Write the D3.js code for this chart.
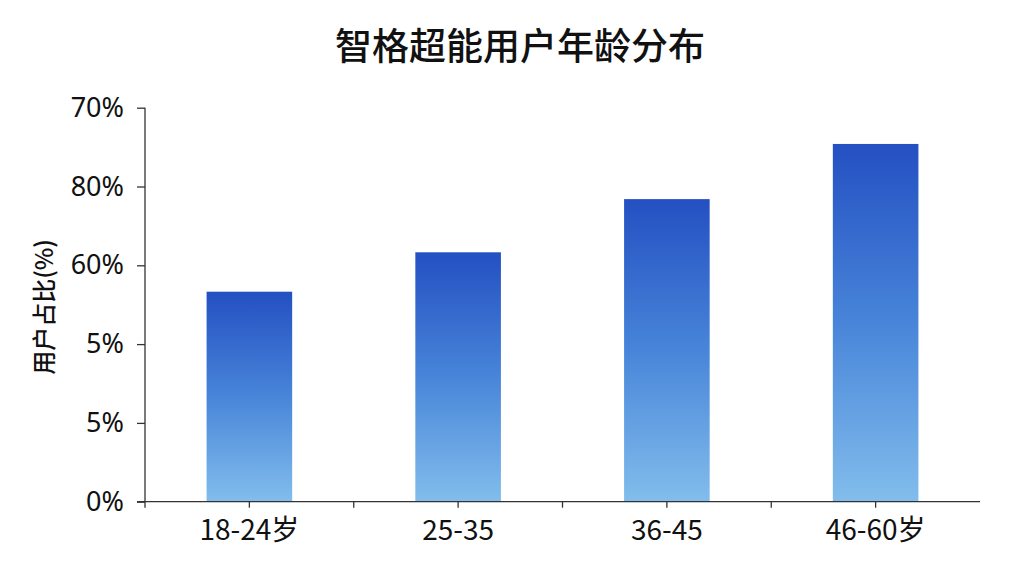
<!DOCTYPE html>
<html>
<head>
<meta charset="utf-8">
<script src="https://cdn.jsdelivr.net/npm/d3@7"></script>
<style>
  body { margin: 0; background: #fff; }
  svg { display: block; }
</style>
</head>
<body>
<div id="chart"></div>
<script>
var ageGroups = ["18-24岁", "25-35", "36-45", "46-60岁"];
var userShare = [53.3, 63.3, 76.8, 90.8];
var yTickValues = [0, 20, 40, 60, 80, 100];
var yTickLabels = ["0%", "5%", "5%", "60%", "80%", "70%"];

var width = 1024, height = 576;
var margin = {top: 107.7, right: 44, bottom: 74.3, left: 145};
var innerW = width - margin.left - margin.right,
    innerH = height - margin.top - margin.bottom;

var font = "'Noto Sans CJK SC', 'Noto Sans', sans-serif";

var svg = d3.select("#chart").append("svg")
    .attr("width", width)
    .attr("height", height);

var defs = svg.append("defs");
var grad = defs.append("linearGradient")
    .attr("id", "barGrad")
    .attr("x1", 0).attr("y1", 0).attr("x2", 0).attr("y2", 1);
grad.append("stop").attr("offset", "0%").attr("stop-color", "#2450c2");
grad.append("stop").attr("offset", "50%").attr("stop-color", "#4885d9");
grad.append("stop").attr("offset", "100%").attr("stop-color", "#82bdec");

var g = svg.append("g")
    .attr("transform", "translate(" + margin.left + "," + margin.top + ")");

var x = d3.scaleBand()
    .domain(ageGroups)
    .range([0, innerW])
    .paddingInner(0.59)
    .paddingOuter(0.295);

var y = d3.scaleLinear()
    .domain([0, 100])
    .range([innerH, 0]);

// title
svg.append("text")
    .attr("x", 520)
    .attr("y", 44)
    .attr("text-anchor", "middle")
    .attr("dominant-baseline", "central")
    .style("font-family", font)
    .style("font-size", "37px")
    .style("font-weight", 500)
    .style("fill", "#111")
    .text("智格超能用户年龄分布");

// bars
g.selectAll(".bar")
    .data(userShare)
    .enter().append("rect")
    .attr("class", "bar")
    .attr("x", function(d, i) { return x(ageGroups[i]); })
    .attr("y", function(d) { return y(d); })
    .attr("width", x.bandwidth())
    .attr("height", function(d) { return innerH - y(d); })
    .attr("fill", "url(#barGrad)");

// y axis
var yAxis = d3.axisLeft(y)
    .tickValues(yTickValues)
    .tickSize(8)
    .tickPadding(13)
    .tickFormat(function(d, i) { return yTickLabels[i]; });

var yg = g.append("g").call(yAxis);
yg.select(".domain").attr("d", "M0,0V" + (innerH + 6));
yg.selectAll("line, path").attr("stroke", "#333").attr("stroke-width", 1.3);
yg.selectAll("text")
    .style("font-family", "'Noto Sans', sans-serif")
    .style("font-size", "27px")
    .style("fill", "#111");

// x axis: ticks at bar centres and in between
var xAxis = d3.axisBottom(x)
    .tickSize(6)
    .tickPadding(12);

var xg = g.append("g")
    .attr("transform", "translate(0," + innerH + ")")
    .call(xAxis);
xg.select(".domain").attr("d", "M-8,0H" + innerW);
xg.selectAll("line, path").attr("stroke", "#333").attr("stroke-width", 1.3);
xg.selectAll("text")
    .style("font-family", font)
    .style("font-size", "28px")
    .style("fill", "#111");

var step = x.step();
xg.selectAll(".mid")
    .data(ageGroups.slice(1))
    .enter().append("line")
    .attr("class", "mid")
    .attr("x1", function(d) { return x(d) + x.bandwidth() / 2 - step / 2; })
    .attr("x2", function(d) { return x(d) + x.bandwidth() / 2 - step / 2; })
    .attr("y1", 0).attr("y2", 6)
    .attr("stroke", "#333").attr("stroke-width", 1.3);

// y axis title
svg.append("text")
    .attr("transform", "translate(42," + 307 + ") rotate(-90)")
    .attr("text-anchor", "middle")
    .attr("dominant-baseline", "central")
    .style("font-family", font)
    .style("font-size", "24px")
    .style("font-weight", 500)
    .style("fill", "#111")
    .text("用户占比(%)");
</script>
</body>
</html>
